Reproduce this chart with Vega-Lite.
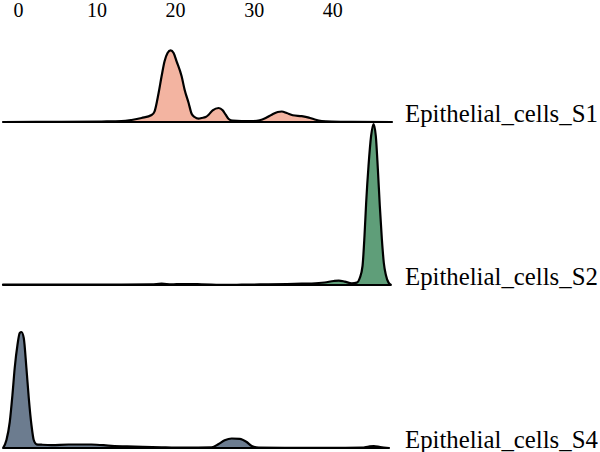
{
  "$schema": "https://vega.github.io/schema/vega-lite/v6.json",
  "padding": {"left": 1, "top": 0, "right": 0, "bottom": 0},
  "background": "white",
  "data": {"values": [
    {"cell": "Epithelial_cells_S1", "v": -1.9, "d": 0},
    {"cell": "Epithelial_cells_S1", "v": 5.54, "d": 0.002},
    {"cell": "Epithelial_cells_S1", "v": 10.64, "d": 0.005},
    {"cell": "Epithelial_cells_S1", "v": 13.18, "d": 0.008},
    {"cell": "Epithelial_cells_S1", "v": 14.46, "d": 0.02},
    {"cell": "Epithelial_cells_S1", "v": 15.73, "d": 0.04},
    {"cell": "Epithelial_cells_S1", "v": 17.01, "d": 0.07},
    {"cell": "Epithelial_cells_S1", "v": 17.39, "d": 0.107},
    {"cell": "Epithelial_cells_S1", "v": 17.9, "d": 0.29},
    {"cell": "Epithelial_cells_S1", "v": 18.28, "d": 0.457},
    {"cell": "Epithelial_cells_S1", "v": 18.66, "d": 0.607},
    {"cell": "Epithelial_cells_S1", "v": 19.04, "d": 0.69},
    {"cell": "Epithelial_cells_S1", "v": 19.43, "d": 0.717},
    {"cell": "Epithelial_cells_S1", "v": 19.81, "d": 0.69},
    {"cell": "Epithelial_cells_S1", "v": 20.19, "d": 0.607},
    {"cell": "Epithelial_cells_S1", "v": 20.83, "d": 0.457},
    {"cell": "Epithelial_cells_S1", "v": 21.21, "d": 0.323},
    {"cell": "Epithelial_cells_S1", "v": 21.72, "d": 0.19},
    {"cell": "Epithelial_cells_S1", "v": 22.1, "d": 0.083},
    {"cell": "Epithelial_cells_S1", "v": 22.48, "d": 0.05},
    {"cell": "Epithelial_cells_S1", "v": 22.99, "d": 0.033},
    {"cell": "Epithelial_cells_S1", "v": 23.38, "d": 0.04},
    {"cell": "Epithelial_cells_S1", "v": 23.89, "d": 0.05},
    {"cell": "Epithelial_cells_S1", "v": 24.27, "d": 0.073},
    {"cell": "Epithelial_cells_S1", "v": 24.78, "d": 0.117},
    {"cell": "Epithelial_cells_S1", "v": 25.54, "d": 0.14},
    {"cell": "Epithelial_cells_S1", "v": 26.05, "d": 0.117},
    {"cell": "Epithelial_cells_S1", "v": 26.43, "d": 0.073},
    {"cell": "Epithelial_cells_S1", "v": 26.82, "d": 0.03},
    {"cell": "Epithelial_cells_S1", "v": 27.32, "d": 0.013},
    {"cell": "Epithelial_cells_S1", "v": 28.47, "d": 0.01},
    {"cell": "Epithelial_cells_S1", "v": 30.0, "d": 0.01},
    {"cell": "Epithelial_cells_S1", "v": 30.76, "d": 0.017},
    {"cell": "Epithelial_cells_S1", "v": 31.53, "d": 0.04},
    {"cell": "Epithelial_cells_S1", "v": 32.29, "d": 0.073},
    {"cell": "Epithelial_cells_S1", "v": 33.06, "d": 0.1},
    {"cell": "Epithelial_cells_S1", "v": 33.57, "d": 0.105},
    {"cell": "Epithelial_cells_S1", "v": 34.2, "d": 0.09},
    {"cell": "Epithelial_cells_S1", "v": 34.97, "d": 0.068},
    {"cell": "Epithelial_cells_S1", "v": 36.11, "d": 0.058},
    {"cell": "Epithelial_cells_S1", "v": 37.01, "d": 0.044},
    {"cell": "Epithelial_cells_S1", "v": 37.77, "d": 0.025},
    {"cell": "Epithelial_cells_S1", "v": 38.66, "d": 0.01},
    {"cell": "Epithelial_cells_S1", "v": 39.94, "d": 0.004},
    {"cell": "Epithelial_cells_S1", "v": 42.48, "d": 0.001},
    {"cell": "Epithelial_cells_S1", "v": 47.6, "d": 0},
    {"cell": "Epithelial_cells_S2", "v": -1.9, "d": 0.003},
    {"cell": "Epithelial_cells_S2", "v": 2.99, "d": 0.004},
    {"cell": "Epithelial_cells_S2", "v": 8.09, "d": 0.005},
    {"cell": "Epithelial_cells_S2", "v": 13.18, "d": 0.004},
    {"cell": "Epithelial_cells_S2", "v": 17.01, "d": 0.006},
    {"cell": "Epithelial_cells_S2", "v": 18.28, "d": 0.014},
    {"cell": "Epithelial_cells_S2", "v": 19.55, "d": 0.006},
    {"cell": "Epithelial_cells_S2", "v": 20.83, "d": 0.01},
    {"cell": "Epithelial_cells_S2", "v": 23.38, "d": 0.007},
    {"cell": "Epithelial_cells_S2", "v": 26.56, "d": 0.001},
    {"cell": "Epithelial_cells_S2", "v": 28.47, "d": 0.003},
    {"cell": "Epithelial_cells_S2", "v": 31.02, "d": 0.006},
    {"cell": "Epithelial_cells_S2", "v": 34.2, "d": 0.01},
    {"cell": "Epithelial_cells_S2", "v": 36.11, "d": 0.013},
    {"cell": "Epithelial_cells_S2", "v": 37.39, "d": 0.015},
    {"cell": "Epithelial_cells_S2", "v": 39.04, "d": 0.025},
    {"cell": "Epithelial_cells_S2", "v": 40.19, "d": 0.04},
    {"cell": "Epithelial_cells_S2", "v": 40.83, "d": 0.044},
    {"cell": "Epithelial_cells_S2", "v": 41.59, "d": 0.034},
    {"cell": "Epithelial_cells_S2", "v": 42.48, "d": 0.017},
    {"cell": "Epithelial_cells_S2", "v": 43.12, "d": 0.024},
    {"cell": "Epithelial_cells_S2", "v": 43.5, "d": 0.07},
    {"cell": "Epithelial_cells_S2", "v": 43.85, "d": 0.19},
    {"cell": "Epithelial_cells_S2", "v": 44.1, "d": 0.49},
    {"cell": "Epithelial_cells_S2", "v": 44.31, "d": 0.82},
    {"cell": "Epithelial_cells_S2", "v": 44.61, "d": 1.19},
    {"cell": "Epithelial_cells_S2", "v": 44.94, "d": 1.49},
    {"cell": "Epithelial_cells_S2", "v": 45.25, "d": 1.61},
    {"cell": "Epithelial_cells_S2", "v": 45.54, "d": 1.49},
    {"cell": "Epithelial_cells_S2", "v": 45.8, "d": 1.16},
    {"cell": "Epithelial_cells_S2", "v": 46.05, "d": 0.79},
    {"cell": "Epithelial_cells_S2", "v": 46.31, "d": 0.46},
    {"cell": "Epithelial_cells_S2", "v": 46.56, "d": 0.22},
    {"cell": "Epithelial_cells_S2", "v": 46.82, "d": 0.1},
    {"cell": "Epithelial_cells_S2", "v": 47.16, "d": 0.024},
    {"cell": "Epithelial_cells_S2", "v": 47.45, "d": 0.003},
    {"cell": "Epithelial_cells_S4", "v": -1.89, "d": 0},
    {"cell": "Epithelial_cells_S4", "v": -1.46, "d": 0.08},
    {"cell": "Epithelial_cells_S4", "v": -1.04, "d": 0.26},
    {"cell": "Epithelial_cells_S4", "v": -0.7, "d": 0.53},
    {"cell": "Epithelial_cells_S4", "v": -0.41, "d": 0.8},
    {"cell": "Epithelial_cells_S4", "v": -0.06, "d": 1.03},
    {"cell": "Epithelial_cells_S4", "v": 0.23, "d": 1.15},
    {"cell": "Epithelial_cells_S4", "v": 0.45, "d": 1.16},
    {"cell": "Epithelial_cells_S4", "v": 0.74, "d": 1.1},
    {"cell": "Epithelial_cells_S4", "v": 1.08, "d": 0.8},
    {"cell": "Epithelial_cells_S4", "v": 1.38, "d": 0.5},
    {"cell": "Epithelial_cells_S4", "v": 1.72, "d": 0.23},
    {"cell": "Epithelial_cells_S4", "v": 2.01, "d": 0.08},
    {"cell": "Epithelial_cells_S4", "v": 2.36, "d": 0.037},
    {"cell": "Epithelial_cells_S4", "v": 2.99, "d": 0.033},
    {"cell": "Epithelial_cells_S4", "v": 4.27, "d": 0.028},
    {"cell": "Epithelial_cells_S4", "v": 6.43, "d": 0.035},
    {"cell": "Epithelial_cells_S4", "v": 9.36, "d": 0.035},
    {"cell": "Epithelial_cells_S4", "v": 11.91, "d": 0.022},
    {"cell": "Epithelial_cells_S4", "v": 14.84, "d": 0.015},
    {"cell": "Epithelial_cells_S4", "v": 18.28, "d": 0.007},
    {"cell": "Epithelial_cells_S4", "v": 21.21, "d": 0.003},
    {"cell": "Epithelial_cells_S4", "v": 24.65, "d": 0.007},
    {"cell": "Epithelial_cells_S4", "v": 25.54, "d": 0.04},
    {"cell": "Epithelial_cells_S4", "v": 26.31, "d": 0.077},
    {"cell": "Epithelial_cells_S4", "v": 27.2, "d": 0.095},
    {"cell": "Epithelial_cells_S4", "v": 28.22, "d": 0.092},
    {"cell": "Epithelial_cells_S4", "v": 29.11, "d": 0.06},
    {"cell": "Epithelial_cells_S4", "v": 29.75, "d": 0.02},
    {"cell": "Epithelial_cells_S4", "v": 30.64, "d": 0.003},
    {"cell": "Epithelial_cells_S4", "v": 33.95, "d": 0.002},
    {"cell": "Epithelial_cells_S4", "v": 39.94, "d": 0.002},
    {"cell": "Epithelial_cells_S4", "v": 43.76, "d": 0.003},
    {"cell": "Epithelial_cells_S4", "v": 44.65, "d": 0.015},
    {"cell": "Epithelial_cells_S4", "v": 45.29, "d": 0.02},
    {"cell": "Epithelial_cells_S4", "v": 46.09, "d": 0.01},
    {"cell": "Epithelial_cells_S4", "v": 47.22, "d": 0}
  ]},
  "facet": {
    "row": {
      "field": "cell",
      "type": "nominal",
      "sort": ["Epithelial_cells_S1", "Epithelial_cells_S2", "Epithelial_cells_S4"],
      "header": {
        "title": null,
        "labelAngle": 0,
        "labelOrient": "right",
        "labelAnchor": "end",
        "labelBaseline": "alphabetic",
        "labelFont": "Liberation Serif",
        "labelFontSize": 24.8,
        "labelColor": "black",
        "labelPadding": 13
      }
    }
  },
  "spacing": 63,
  "bounds": "flush",
  "spec": {
    "width": 389,
    "height": 100,
    "mark": {"type": "area", "interpolate": "monotone", "stroke": "black", "strokeWidth": 2.2, "strokeJoin": "round", "clip": false},
    "encoding": {
      "x": {
        "field": "v",
        "type": "quantitative",
        "scale": {"domain": [-1.9, 47.6], "nice": false, "zero": false},
        "axis": {
          "orient": "top",
          "title": null,
          "values": [0, 10, 20, 30, 40],
          "grid": false,
          "domain": false,
          "ticks": false,
          "labelFont": "Liberation Serif",
          "labelFontSize": 20,
          "labelColor": "black",
          "labelPadding": 2
        }
      },
      "y": {
        "field": "d",
        "type": "quantitative",
        "stack": null,
        "scale": {"domain": [0, 1], "nice": false},
        "axis": null
      },
      "color": {
        "field": "cell",
        "type": "nominal",
        "scale": {
          "domain": ["Epithelial_cells_S1", "Epithelial_cells_S2", "Epithelial_cells_S4"],
          "range": ["#F3B4A1", "#5F9E79", "#6C7C8F"]
        },
        "legend": null
      }
    }
  },
  "config": {"view": {"stroke": null}}
}
